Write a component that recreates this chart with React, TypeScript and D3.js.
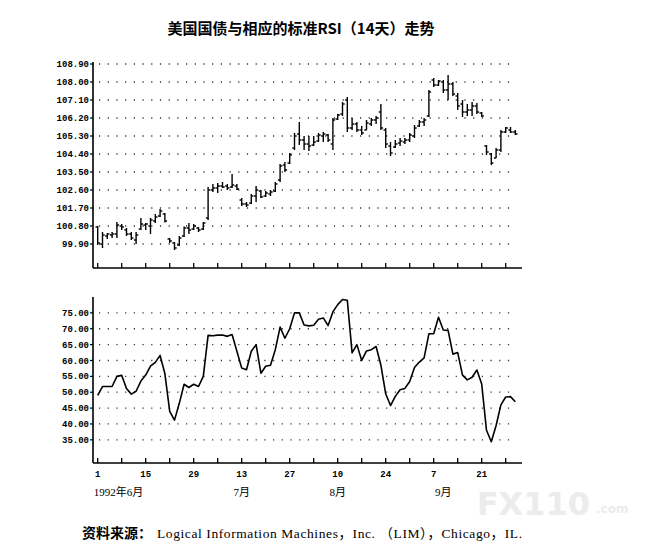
import React from "react";
import * as d3 from "d3";

// Trading-day index 0 = 1992-06-01 (Monday)
const high = [100.8,100.5,100.45,100.5,101.0,100.9,100.7,100.5,100.5,101.2,100.95,101.2,101.4,101.65,101.45,100.2,100.0,100.3,100.77,100.95,100.9,100.75,101.0,102.75,102.9,102.95,103.0,102.9,103.4,102.9,102.2,102.0,102.4,102.8,102.6,102.55,102.6,103.0,103.9,104.0,104.45,105.45,106.0,105.3,105.3,105.3,105.45,105.5,105.4,106.2,106.4,107.0,107.25,106.2,106.0,105.8,106.1,106.2,106.3,106.9,105.7,105.0,105.1,105.2,105.2,105.45,105.85,106.1,106.2,107.6,108.2,108.1,108.1,108.35,108.0,107.45,107.1,106.9,107.0,106.95,106.5,104.85,104.45,104.7,105.6,105.75,105.75,105.6];
const low = [99.85,99.7,100.15,100.2,100.2,100.6,100.3,100.1,99.9,100.6,100.6,100.4,100.95,101.25,100.97,99.95,99.6,99.8,100.25,100.4,100.6,100.5,100.6,101.1,102.5,102.45,102.7,102.6,102.7,102.6,101.8,101.75,101.9,102.0,102.2,102.25,102.3,102.5,103.0,103.5,103.9,104.6,104.85,104.6,104.55,104.8,105.0,105.0,105.0,104.6,106.1,106.3,105.5,105.6,105.5,105.35,105.6,105.8,105.9,105.6,104.7,104.3,104.7,104.8,104.9,105.0,105.2,105.75,105.8,106.25,107.75,107.8,107.45,107.1,107.3,106.6,106.25,106.3,106.3,106.4,106.25,104.35,103.85,104.2,104.5,105.45,105.45,105.35];
const open = [100.75,99.9,100.3,100.35,100.4,100.8,100.6,100.4,100.1,100.65,100.85,100.8,101.05,101.3,101.4,100.15,99.95,99.85,100.3,100.7,100.65,100.7,100.65,101.2,102.6,102.7,102.8,102.8,102.75,102.8,102.1,101.9,101.95,102.3,102.55,102.3,102.4,102.55,103.1,103.85,103.95,104.7,105.4,105.1,104.9,104.85,105.05,105.3,105.35,104.9,106.15,106.4,107.1,105.7,105.9,105.6,105.6,105.9,106.1,106.5,105.6,104.8,104.75,104.95,105.0,105.1,105.3,105.8,106.0,106.3,108.1,107.85,108.0,107.6,107.9,107.3,106.9,106.5,106.6,106.8,106.45,104.8,104.4,104.2,104.6,105.5,105.6,105.5];
const close = [99.95,100.35,100.4,100.4,100.85,100.75,100.4,100.2,100.35,100.9,100.9,101.1,101.25,101.55,101.05,100.05,99.7,100.2,100.7,100.6,100.8,100.6,100.95,102.6,102.7,102.8,102.75,102.7,102.85,102.65,101.9,101.85,102.3,102.6,102.25,102.45,102.5,102.9,103.8,103.6,104.35,105.3,105.1,104.9,104.8,105.0,105.35,105.4,105.1,106.1,106.35,106.9,105.7,105.9,105.6,105.45,105.95,106.1,106.2,105.7,104.9,104.45,104.9,105.05,105.1,105.35,105.7,106.0,106.1,107.5,107.85,108.05,107.6,107.9,107.4,106.8,106.5,106.6,106.8,106.5,106.3,104.5,103.95,104.6,105.5,105.7,105.5,105.4];
const rsi = [49.0,51.8,51.8,51.8,55.0,55.3,51.2,49.4,50.3,53.5,55.4,58.2,59.4,61.6,55.8,44.0,41.2,46.5,52.5,51.5,52.5,51.8,55.0,67.9,67.8,68.0,68.0,67.6,68.2,62.9,57.6,57.1,62.9,65.0,56.0,58.2,58.5,63.4,70.5,67.0,70.0,75.0,75.0,71.2,70.9,71.1,73.0,73.4,71.0,75.3,77.6,79.2,79.0,62.4,65.0,60.0,63.0,63.4,64.4,58.5,49.5,45.8,48.7,50.8,51.2,53.4,57.8,59.5,60.8,68.4,68.4,73.6,69.6,69.5,62.0,62.5,55.4,53.9,54.7,57.0,52.6,38.0,34.4,39.5,46.0,48.5,48.6,47.0];

const priceTicks = [108.9, 108.0, 107.1, 106.2, 105.3, 104.4, 103.5, 102.6, 101.7, 100.8, 99.9];
const rsiTicks = [75, 70, 65, 60, 55, 50, 45, 40, 35];
const weekTicks = d3.range(0, 90, 5);
const dayLabels = ["1", "15", "29", "13", "27", "10", "24", "7", "21"];
const monthLabels = [
  { text: "1992年6月", at: -0.8, anchor: "start" },
  { text: "7月", at: 30, anchor: "middle" },
  { text: "8月", at: 50, anchor: "middle" },
  { text: "9月", at: 72, anchor: "middle" },
];

const title = "美国国债与相应的标准RSI（14天）走势";
const sourceLabel = "资料来源：";
const sourceText = "Logical Information Machines，Inc. （LIM），Chicago，IL.";

export default function App() {
  const x = d3.scaleLinear().domain([0, 85]).range([97.7, 505.7]);
  const yP = d3.scaleLinear().domain([98.7, 108.9]).range([268, 64]);
  const yR = d3.scaleLinear().domain([27.7, 80]).range([463, 297]);
  const axisX0 = 93;
  const axisX1 = 522;
  const gridX1 = 510;
  const monoFont = "'Liberation Mono', 'DejaVu Sans Mono', monospace";
  const line = d3
    .line<number>()
    .x((_, i) => x(i))
    .y((d) => yR(d));

  return (
    <svg
      width={653}
      height={554}
      style={{ position: "absolute", left: 0, top: 0, background: "#fff" }}
    >
      <text
        x={301}
        y={34}
        textAnchor="middle"
        fontFamily="'Noto Sans CJK SC', sans-serif"
        fontWeight="bold"
        fontSize={15}
      >
        {title}
      </text>

      {/* ---------- top price chart ---------- */}
      <g>
        {priceTicks.map((t) => (
          <g key={t}>
            <line
              x1={axisX0 + 6}
              x2={gridX1}
              y1={yP(t)}
              y2={yP(t)}
              stroke="#333"
              strokeWidth={1.3}
              strokeDasharray="1.2 7.5"
            />
            <line x1={axisX0 - 3} x2={axisX0} y1={yP(t)} y2={yP(t)} stroke="#000" strokeWidth={1.2} />
            <text
              x={89}
              y={yP(t)}
              dy="0.35em"
              textAnchor="end"
              fontFamily={monoFont}
              fontWeight="bold"
              fontSize={9}
            >
              {t.toFixed(2)}
            </text>
          </g>
        ))}
        <line x1={axisX0} x2={axisX0} y1={62} y2={268} stroke="#000" strokeWidth={1.6} />
        <line x1={axisX0} x2={axisX1} y1={268} y2={268} stroke="#000" strokeWidth={1.6} />
        {weekTicks.map((w) => (
          <line key={w} x1={x(w)} x2={x(w)} y1={268} y2={263} stroke="#000" strokeWidth={1.3} />
        ))}
        {high.map((h, i) => (
          <g key={i} stroke="#000" strokeWidth={1.4}>
            <line x1={x(i)} x2={x(i)} y1={yP(h)} y2={yP(low[i])} />
            <line x1={x(i) - 2.2} x2={x(i)} y1={yP(open[i])} y2={yP(open[i])} />
            <line x1={x(i)} x2={x(i) + 2.2} y1={yP(close[i])} y2={yP(close[i])} />
          </g>
        ))}
      </g>

      {/* ---------- bottom RSI chart ---------- */}
      <g>
        {rsiTicks.map((t) => (
          <g key={t}>
            <line
              x1={axisX0 + 6}
              x2={gridX1}
              y1={yR(t)}
              y2={yR(t)}
              stroke="#333"
              strokeWidth={1.3}
              strokeDasharray="1.2 7.5"
            />
            <line x1={axisX0 - 3} x2={axisX0} y1={yR(t)} y2={yR(t)} stroke="#000" strokeWidth={1.2} />
            <text
              x={89}
              y={yR(t)}
              dy="0.35em"
              textAnchor="end"
              fontFamily={monoFont}
              fontWeight="bold"
              fontSize={9}
            >
              {t.toFixed(2)}
            </text>
          </g>
        ))}
        <line x1={axisX0} x2={axisX0} y1={297} y2={463} stroke="#000" strokeWidth={1.6} />
        <line x1={axisX0} x2={axisX1} y1={463} y2={463} stroke="#000" strokeWidth={1.6} />
        {weekTicks.map((w) => (
          <line key={w} x1={x(w)} x2={x(w)} y1={463} y2={458} stroke="#000" strokeWidth={1.3} />
        ))}
        <path d={line(rsi) || ""} fill="none" stroke="#000" strokeWidth={1.6} strokeLinejoin="round" />
        {dayLabels.map((d, k) => (
          <text
            key={k}
            x={x(k * 10)}
            y={477}
            textAnchor="middle"
            fontFamily={monoFont}
            fontWeight="bold"
            fontSize={9}
          >
            {d}
          </text>
        ))}
        {monthLabels.map((m) => (
          <text
            key={m.text}
            x={x(m.at)}
            y={496}
            textAnchor={m.anchor as any}
            fontFamily="'Liberation Serif', 'Noto Sans CJK SC', serif"
            fontSize={11}
          >
            {m.text}
          </text>
        ))}
      </g>

      <text x={590} y={515} textAnchor="end" fontFamily="'DejaVu Sans', sans-serif" fontWeight="bold" fontSize={32} fill="#ececec">
        FX110
      </text>
      <text x={596} y={513} textAnchor="start" fontFamily="'DejaVu Sans', sans-serif" fontWeight="bold" fontSize={12} fill="#ececec">
        .com
      </text>

      <text x={82} y={538} fontSize={14} fontFamily="'Noto Sans CJK SC', sans-serif" fontWeight="bold">
        {sourceLabel}
      </text>
      <text
        x={157}
        y={538}
        fontSize={13.5}
        textLength={365}
        lengthAdjust="spacing"
        fontFamily="'Liberation Serif', 'Noto Sans CJK SC', serif"
      >
        {sourceText}
      </text>
    </svg>
  );
}
